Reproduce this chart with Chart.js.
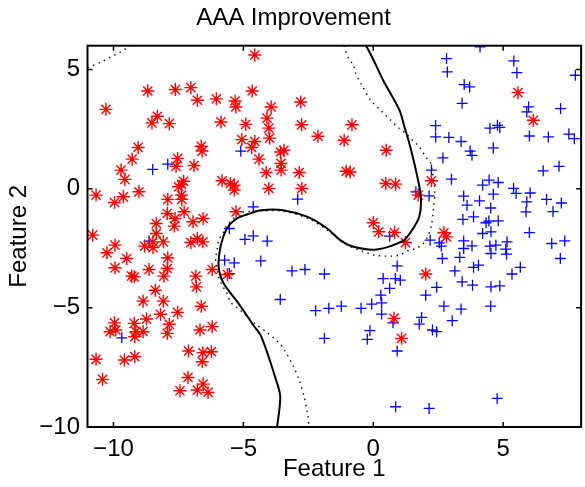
<!DOCTYPE html>
<html>
<head>
<meta charset="utf-8">
<style>
  html, body { margin: 0; padding: 0; overflow: hidden; background: #fff; }
  #wrap { position: absolute; left: 0; top: 0; width: 589px; height: 487px; }
</style>
</head>
<body>
<div id="wrap"><canvas id="boundaryChart" width="589" height="487"></canvas></div>
<script src="https://cdn.jsdelivr.net/npm/chart.js"></script>
<script>
    // class 1 (red asterisks)
    const class1X = [-8.68, -7.62, -7.02, -6.77, -6.04, -5.32, -5.29, -4.66, -10.29, -8.31, -8.52, -7.85, -5.86, -4.91, -5.06, -4.68, -9.05, -9.28, -9.71, -7.53,
        -7.59, -6.90, -6.62, -6.59, -4.56, -2.79, -3.93, -4.09, -2.76, -0.82, -4.02, -3.99, -2.13, -1.12, -4.56, -3.57, -3.44, -4.40, -3.55, 0.50,
        -4.12, -3.55, -2.85, -1.04, -0.89, 5.57, 6.16, 2.24, 1.73, 2.72, 2.82, 2.02, 0.80, 1.09, -4.02, -2.75, 0.48, 0.86, 0.00, 0.21,
        0.82, 1.24, -9.56, -10.67, -9.96, -9.62, -9.02, -7.91, -7.49, -7.38, -7.30, -7.38, -7.37, -5.82, -5.50, -5.35, -5.35, -7.93, -7.28, -7.63,
        -7.66, -6.94, -6.55, -5.28, -8.35, -8.35, -10.80, -9.94, -10.25, -8.80, -8.48, -8.48, -8.08, -7.02, -6.77, -6.56, -9.49, -7.91, -9.94, -8.63,
        -7.93, -9.30, -9.20, -8.06, -6.83, -6.20, -5.61, -6.81, -8.39, -8.86, -8.08, -6.62, -8.19, -7.53, -8.73, -9.96, -10.13, -9.91, -9.20, -9.14,
        -9.18, -8.86, -7.85, -7.93, -6.67, -6.20, -10.67, -9.58, -9.18, -7.11, -6.56, -6.23, -6.58, -10.42, -7.13, -6.55, -6.77, -7.44, -6.36];
    const class1Y = [4.10, 4.16, 4.24, 3.71, 3.77, 3.68, 3.43, 4.10, 3.33, 3.04, 2.76, 2.73, 2.80, 2.70, 2.06, 1.73, 1.73, 1.24, 0.78, 1.27,
        0.94, 0.97, 1.78, 1.58, 5.61, 3.64, 3.43, 2.96, 2.68, 2.68, 2.54, 2.12, 2.20, 2.03, 1.98, 1.54, 1.61, 1.24, 1.06, 1.61,
        0.68, 0.78, 0.68, 0.73, 0.70, 4.03, 2.87, 0.33, -0.27, -1.85, -2.02, -3.58, -5.44, -6.28, 0.01, 0.01, 0.22, 0.19, -1.43, -1.81,
        -1.84, -2.26, 0.39, -0.27, -0.58, -0.34, -0.13, -0.45, 0.08, 0.18, 0.31, -0.27, -0.45, 0.33, 0.22, 0.15, -0.06, -1.04, -0.97, -1.25,
        -1.57, -1.39, -1.25, -0.97, -1.46, -1.88, -1.95, -2.37, -2.69, -2.41, -2.23, -2.47, -2.23, -2.26, -2.09, -2.23, -2.93, -2.90, -3.32, -3.39,
        -3.35, -3.67, -3.70, -3.67, -3.67, -3.39, -3.60, -4.12, -4.26, -4.72, -4.72, -4.93, -5.27, -5.19, -5.47, -5.63, -6.00, -5.93, -5.65, -6.00,
        -6.21, -6.00, -5.69, -6.07, -5.93, -5.79, -7.16, -7.19, -7.05, -6.81, -6.88, -6.84, -7.26, -8.00, -7.92, -8.20, -8.45, -8.48, -8.55];

    // class 2 (blue pluses)
    const class2X = [-8.49, -7.91, -5.10, 4.11, 2.82, 2.85, 5.41, 5.53, 7.78, 3.50, 3.71, 3.42, 5.98, 5.91, 7.21, 2.40, 2.40, 2.91, 3.38, 4.49,
        4.78, 4.87, 6.01, 6.74, 7.53, 7.74, 4.62, 3.73, 3.80, 2.68, 2.24, 6.54, 7.15, 3.01, 4.46, 4.81, 4.21, 3.48, 4.62, 4.09,
        3.61, 5.40, 5.50, 6.04, 6.67, 7.24, 5.91, 5.88, 6.92, 4.52, 3.45, 3.86, 4.45, 4.81, 4.34, 4.21, 4.53, 6.01, 2.19, 2.54,
        2.62, 3.48, 3.48, 3.80, 4.49, 4.72, 5.15, 5.10, 5.13, 4.53, 6.87, 7.37, 7.20, 2.66, 3.33, 3.86, 4.05, 3.14, 5.66, 5.34,
        3.42, 3.82, 4.53, 4.87, 2.44, 2.02, 2.15, 1.64, 2.72, 3.38, 4.52, 1.86, 1.77, 3.04, 2.28, 2.44, 4.77, 2.15, -2.22, -1.71,
        -1.23, -0.47, -0.06, 0.32, 0.32, 0.76, -1.88, -0.13, -0.23, 0.92, 0.86, -2.91, -4.62, -4.62, -4.08, -4.33, -3.13, -2.63, -1.88, 0.63,
        0.92, 0.38, 0.85, 1.04, 0.63, 0.29, -3.58, -8.63, -5.54, -4.94, -5.72, -5.35, -5.54, -9.68];
    const class2Y = [0.81, 1.03, 1.58, 5.95, 5.46, 4.90, 5.36, 4.87, 4.76, 4.37, 4.27, 3.58, 3.43, 3.22, 3.36, 2.65, 2.17, 2.15, 1.98, 2.54,
        2.66, 2.57, 2.21, 2.17, 2.29, 2.10, 1.71, 1.58, 1.40, 1.29, 0.78, 0.75, 0.94, 0.40, 0.36, 0.26, 0.15, -0.31, -0.23, -0.51,
        -0.69, 0.01, -0.20, -0.18, -0.45, -0.60, -0.55, -0.97, -0.96, -0.81, -1.29, -1.18, -1.36, -1.35, -1.43, -1.88, -1.81, -1.84, -2.16, -2.27,
        -2.41, -2.19, -2.51, -2.40, -2.41, -2.37, -2.23, -2.54, -2.75, -2.72, -2.30, -2.19, -2.93, -2.93, -2.88, -3.30, -3.21, -3.45, -3.30, -3.58,
        -3.91, -4.05, -4.12, -4.08, -4.14, -4.47, -0.30, -0.13, -4.93, -5.05, -4.93, -5.40, -5.68, -5.54, -5.93, -6.00, -8.80, -9.22, -5.12, -5.02,
        -4.93, -5.02, -4.84, -4.79, -5.26, -5.63, -6.28, -5.96, -6.32, -6.81, -9.15, -0.44, -0.76, -1.98, -2.20, -3.03, -3.45, -3.39, -3.58, -1.99,
        -3.24, -3.77, -3.77, -3.84, -4.18, -4.47, -4.65, -2.20, -1.67, -2.13, -3.00, -3.11, -3.56, -6.26];

    // improved decision boundary (solid)
    const solidX = [-0.28, -0.06, 0.38, 1.01, 1.20, 1.39, 1.64, 1.83, 1.77, 1.45, 1.14, 0.13, -0.76, -1.27, -1.77, -2.53, -3.48, -4.31, -4.75, -5.25,
        -5.63, -5.88, -5.95, -5.76, -5.19, -4.62, -4.31, -3.74, -3.58, -3.70];
    const solidY = [6.00, 5.56, 4.55, 3.29, 2.59, 1.90, 0.78, -0.34, -1.18, -1.81, -2.19, -2.55, -2.44, -2.16, -1.67, -1.18, -0.90, -0.90, -1.04, -1.25,
        -1.67, -2.44, -3.28, -3.97, -4.81, -5.72, -6.21, -8.03, -8.73, -10.00];

    // original decision boundary (dotted), main branch and corner branch
    const dottedX = [-1.12, -0.95, -0.76, -0.70, -0.44, -0.10, 0.32, 0.63, 0.95, 1.26, 1.58, 1.77, 2.02, 2.21, 2.34, 2.37, 2.32, 2.24, 2.09, 1.90,
        1.64, 1.39, 1.01, 0.63, 0.06, -0.51, -1.01, -1.77, -2.53, -3.48, -4.32, -5.13, -5.44, -5.63, -5.76, -5.95, -6.01, -6.07, -6.01, -5.95,
        -5.82, -5.63, -5.50, -5.13, -4.56, -4.05, -3.67, -3.42, -3.10, -2.85, -2.66, -2.53, -2.47];
    const dottedY = [6.00, 5.46, 5.18, 4.90, 4.34, 3.71, 3.25, 2.91, 2.57, 2.31, 1.96, 1.75, 1.33, 1.06, 0.22, -0.20, -0.83, -1.53, -2.02, -2.33,
        -2.51, -2.58, -2.79, -2.83, -2.79, -2.58, -2.37, -1.74, -1.24, -0.94, -0.94, -1.01, -1.32, -1.53, -1.81, -2.16, -2.58, -2.93, -3.28, -3.70,
        -4.05, -4.39, -4.75, -5.09, -5.65, -6.07, -6.42, -6.77, -7.40, -8.03, -8.73, -9.43, -10.00];
    const cornerX = [-11.00, -10.50, -10.13, -9.75, -9.37];
    const cornerY = [5.08, 5.30, 5.51, 5.72, 6.00];

    const xTicks = [-10, -5, 0, 5];
    const yTicks = [-10, -5, 0, 5];

    const pts = (xs, ys) => xs.map((x, i) => ({ x: x, y: ys[i] }));
    const minus = v => String(v).replace('-', '\u2212');

    const fontFamily = '"Liberation Sans", Arial, Helvetica, sans-serif';

    // box frame with inward ticks, drawn over everything
    const frame = {
        id: 'frame',
        afterDraw(chart) {
            const { ctx, chartArea: a, scales } = chart;
            ctx.save();
            ctx.strokeStyle = '#000';
            ctx.lineWidth = 1.5;
            ctx.beginPath();
            xTicks.forEach(v => {
                const px = scales.x.getPixelForValue(v);
                ctx.moveTo(px, a.bottom); ctx.lineTo(px, a.bottom - 5);
                ctx.moveTo(px, a.top); ctx.lineTo(px, a.top + 5);
            });
            yTicks.forEach(v => {
                const py = scales.y.getPixelForValue(v);
                ctx.moveTo(a.left, py); ctx.lineTo(a.left + 5, py);
                ctx.moveTo(a.right, py); ctx.lineTo(a.right - 5, py);
            });
            ctx.stroke();
            ctx.lineWidth = 2;
            ctx.strokeRect(a.left, a.top, a.right - a.left, a.bottom - a.top);
            ctx.restore();
        }
    };

    const ctx = document.getElementById('boundaryChart').getContext('2d');
    new Chart(ctx, {
        type: 'scatter',
        data: {
            datasets: [
                {
                    label: 'Improved boundary',
                    data: pts(solidX, solidY),
                    showLine: true,
                    borderColor: '#000',
                    borderWidth: 2,
                    pointRadius: 0,
                    tension: 0.3,
                    fill: false
                },
                {
                    label: 'Initial boundary',
                    data: pts(dottedX, dottedY),
                    showLine: true,
                    borderColor: '#000',
                    borderWidth: 1.4,
                    borderDash: [1.4, 4.5],
                    pointRadius: 0,
                    tension: 0.3,
                    fill: false
                },
                {
                    label: 'Initial boundary (corner)',
                    data: pts(cornerX, cornerY),
                    showLine: true,
                    borderColor: '#000',
                    borderWidth: 1.4,
                    borderDash: [1.4, 4.5],
                    pointRadius: 0,
                    tension: 0.3,
                    fill: false
                },
                {
                    label: 'Class 1',
                    data: pts(class1X, class1Y),
                    pointStyle: 'star',
                    pointRadius: 6.5,
                    borderColor: '#ff0000',
                    backgroundColor: '#ff0000',
                    borderWidth: 1.4
                },
                {
                    label: 'Class 2',
                    data: pts(class2X, class2Y),
                    pointStyle: 'cross',
                    pointRadius: 5.5,
                    borderColor: '#0000ff',
                    backgroundColor: '#0000ff',
                    borderWidth: 1.3
                }
            ]
        },
        options: {
            responsive: false,
            animation: false,
            events: [],
            layout: { padding: { left: 0, right: 2, top: 0, bottom: 0 } },
            plugins: {
                legend: { display: false },
                tooltip: { enabled: false },
                title: {
                    display: true,
                    text: 'AAA Improvement',
                    color: '#000',
                    font: { family: fontFamily, size: 24, weight: 'normal' },
                    padding: { top: 3.6, bottom: 13.3 }
                }
            },
            scales: {
                x: {
                    type: 'linear',
                    min: -11,
                    max: 8,
                    afterBuildTicks: s => { s.ticks = xTicks.map(v => ({ value: v })); },
                    afterFit: s => { s.height = 60; },
                    grid: { display: false, drawTicks: false },
                    border: { display: false },
                    ticks: {
                        color: '#000',
                        padding: 8,
                        autoSkip: false,
                        maxRotation: 0,
                        font: { family: fontFamily, size: 24 },
                        callback: v => minus(v)
                    },
                    title: {
                        display: true,
                        text: 'Feature 1',
                        color: '#000',
                        font: { family: fontFamily, size: 24 },
                        padding: { top: 0, bottom: 3 }
                    }
                },
                y: {
                    type: 'linear',
                    min: -10,
                    max: 6,
                    afterBuildTicks: s => { s.ticks = yTicks.map(v => ({ value: v })); },
                    afterFit: s => { s.width = 87.5; },
                    grid: { display: false, drawTicks: false },
                    border: { display: false },
                    ticks: {
                        color: '#000',
                        padding: 7.5,
                        autoSkip: false,
                        font: { family: fontFamily, size: 24 },
                        callback: v => minus(v)
                    },
                    title: {
                        display: true,
                        text: 'Feature 2',
                        color: '#000',
                        font: { family: fontFamily, size: 24 },
                        padding: { top: 5, bottom: 0 }
                    }
                }
            }
        },
        plugins: [frame]
    });
</script>
</body>
</html>
